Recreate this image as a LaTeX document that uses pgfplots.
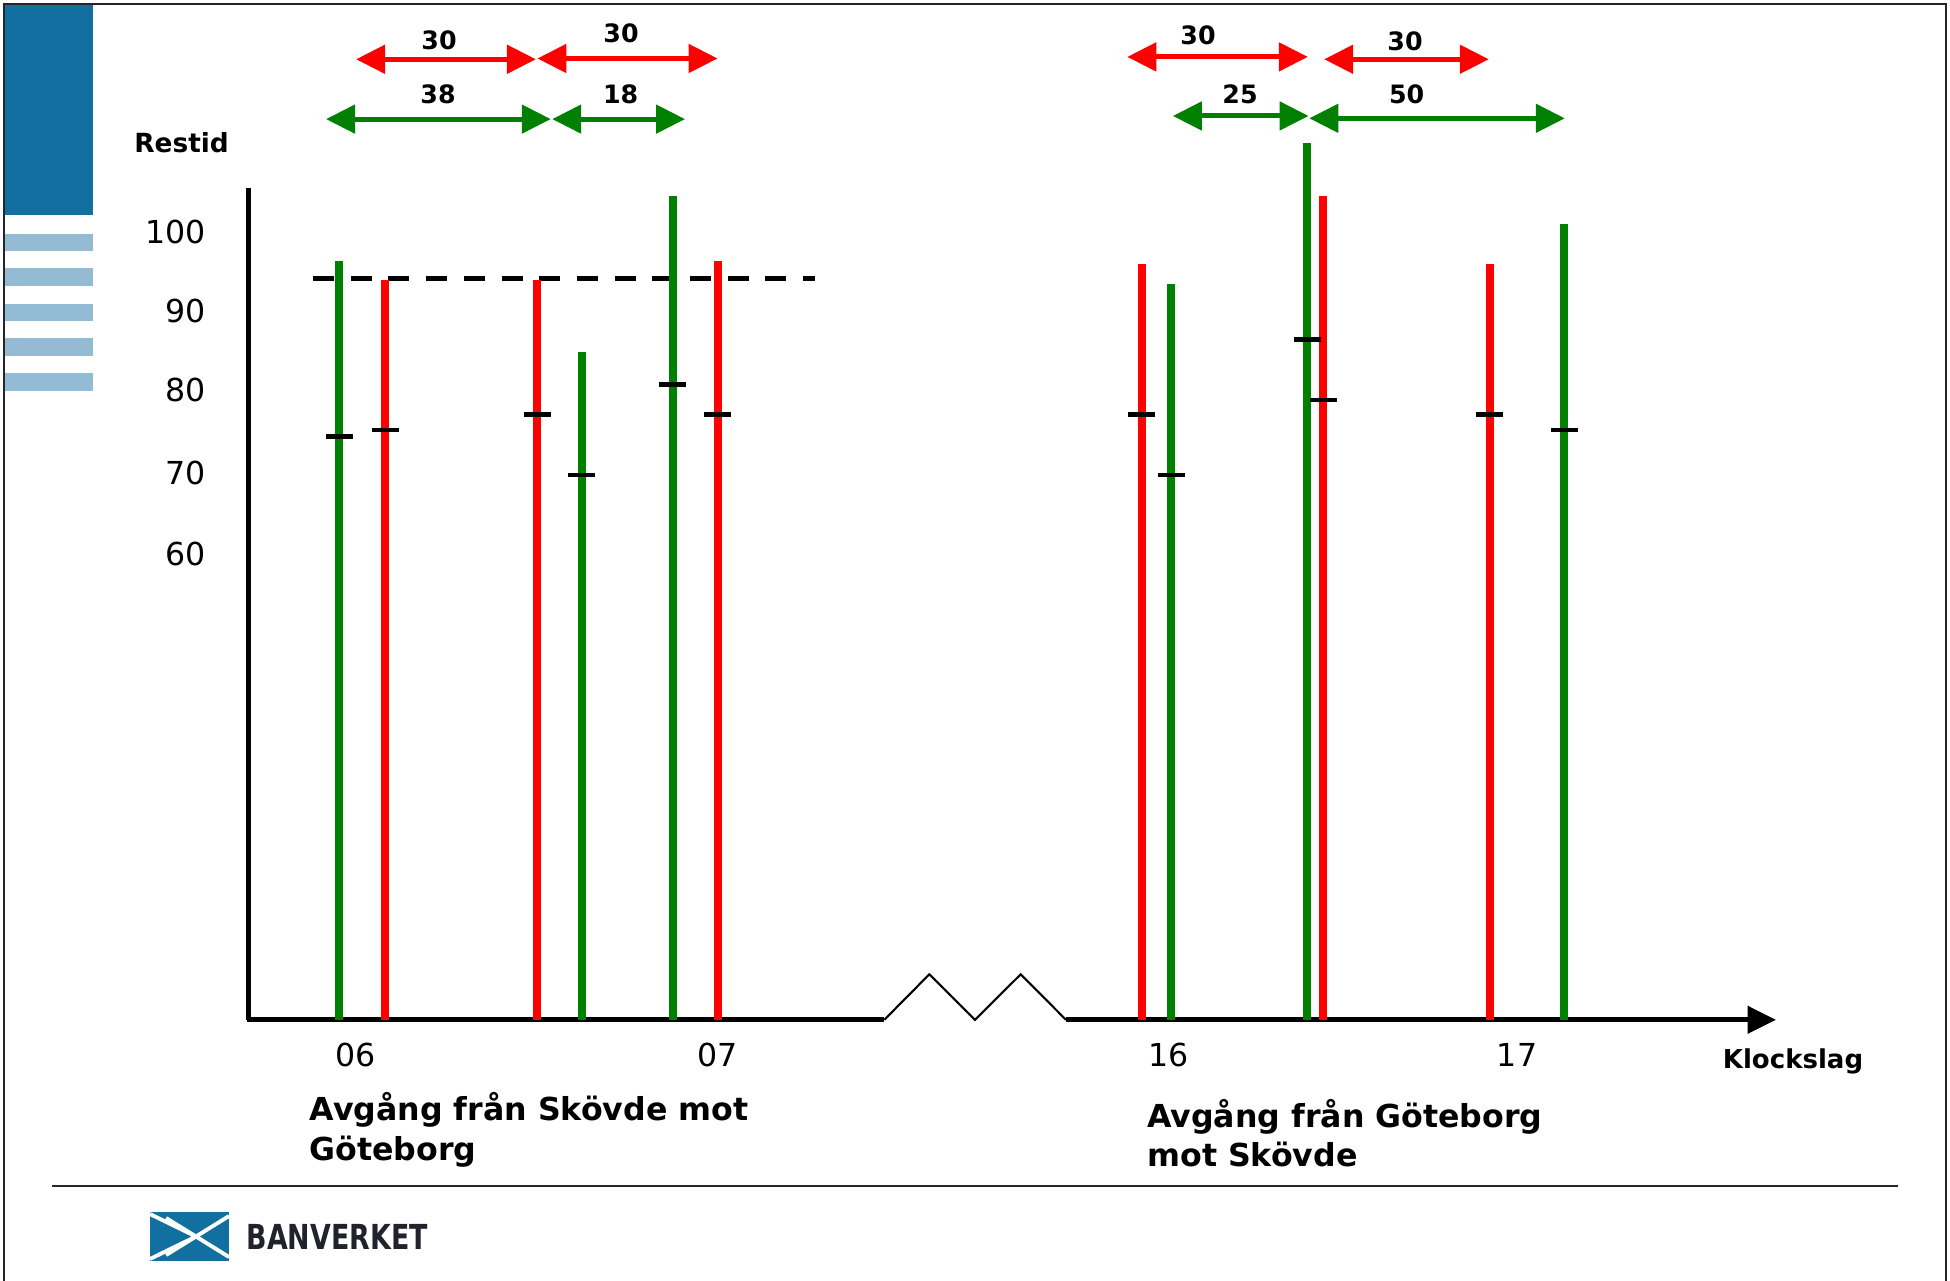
\documentclass[border=0pt]{standalone}
\usepackage{pgfplots}
\pgfplotsset{compat=1.18}
\usepackage{fontspec}
\setmainfont{DejaVu Sans}
\usetikzlibrary{arrows.meta}

\definecolor{tgreen}{RGB}{0,128,0}
\definecolor{tred}{RGB}{255,0,0}
\definecolor{bvblue}{RGB}{17,112,160}
\definecolor{bvlight}{RGB}{147,187,211}
\definecolor{logotext}{RGB}{34,34,44}

% restid per avgang: x = klockslag (tim, med avbrott mellan 07 och 16), y = min
\pgfplotstableread{
x     top   mid
5.955 96.4  74.1
6.625 84.8  69.2
6.876 104.6 80.7
8.254 93.5  69.2
8.629 111.4 86.4
9.340 101.1 74.9
}\gronatag
\pgfplotstableread{
x     top   mid
6.082 94.0  74.9
6.502 94.0  76.9
7.000 96.4  76.9
8.172 96.0  76.9
8.673 104.6 78.7
9.134 96.0  76.9
}\rodatag

\tikzset{dim/.style={line width=1.4pt, {Triangle[length=2.9mm,width=2.8mm]}-{Triangle[length=2.9mm,width=2.8mm]}}}

\begin{document}
\begin{tikzpicture}
\begin{scope}[x=0.1mm, y=-0.1mm]
  \useasboundingbox (0,0) rectangle (1950,1281);
  % ram och sidhuvud
  \draw[line width=0.6pt, black!85] (4,1290) -- (4,4) -- (1946,4) -- (1946,1290);
  \fill[bvblue] (5,5) rectangle (92.7,215);
  \foreach \a/\b in {234/251, 268.3/285.7, 304/320.7, 338.3/355.7, 373.3/390.7}
    \fill[bvlight] (5,\a) rectangle (92.7,\b);
  \draw[line width=0.6pt, black!85] (52,1186) -- (1898,1186);
  % logotyp
  \begin{scope}
    \clip (150,1212) rectangle (229,1261);
    \fill[bvblue] (150,1212) rectangle (229,1261);
    \draw[white, line width=1.1pt] (150,1214) -- (196,1236.5) -- (150,1259);
    \draw[white, line width=1.1pt] (166,1218) -- (196,1236.5) -- (229,1216);
    \draw[white, line width=1.1pt] (166,1255) -- (196,1236.5) -- (229,1257);
  \end{scope}
  \node[anchor=west, inner sep=0, text=logotext] at (246,1237)
    {\scalebox{0.78}[1]{\fontsize{9.8pt}{11pt}\selectfont\bfseries BANVERKET}};
  % axlar
  \draw[line width=1.4pt] (248.7,1019.8) -- (248.7,188);
  \draw[line width=1.35pt] (246.7,1019.8) -- (884.3,1019.8);
  \draw[line width=0.6pt] (884.3,1019.8) -- (929.3,974.3) -- (975,1019.8) -- (1020.7,974.3) -- (1066,1019.8);
  \draw[line width=1.35pt, -{Triangle[length=2.85mm,width=2.7mm]}] (1066,1019.8) -- (1776,1019.8);
  % texter
  \node[font=\fontsize{7.5pt}{9pt}\selectfont\bfseries] at (181.6,143) {Restid};
  \node[font=\fontsize{7.4pt}{9pt}\selectfont\bfseries, anchor=base] at (1793,1068.5) {Klockslag};
  \begin{scope}[every node/.style={font=\fontsize{9pt}{11pt}\selectfont\bfseries, anchor=base west, inner sep=0}]
    \node at (309,1120) {Avgång från Skövde mot};
    \node at (309,1160) {Göteborg};
    \node at (1146.6,1127) {Avgång från Göteborg};
    \node at (1146.6,1166) {mot Skövde};
  \end{scope}
  \begin{scope}[every node/.style={font=\fontsize{7.2pt}{9pt}\selectfont\bfseries, anchor=base, inner sep=0}]
    \node at (439,50) {30};
    \node at (621,42.7) {30};
    \node at (438,104) {38};
    \node at (620.7,104) {18};
    \node at (1198,45) {30};
    \node at (1405,50.7) {30};
    \node at (1240,104) {25};
    \node at (1406.7,104) {50};
  \end{scope}
\end{scope}

\begin{axis}[
    at={(24.87mm,-101.98mm)}, anchor=south west,
    scale only axis, width=152.73mm, height=83.18mm,
    xmin=5.7043, xmax=9.9245, ymin=0, ymax=105.65,
    axis line style={draw=none},
    clip=false,
    major tick length=0pt,
    xtick={6,7,8.247,9.209}, xticklabels={06,07,16,17},
    ytick={59.2,69.4,80,90,100}, yticklabels={60,70,80,90,100},
    /pgf/number format/assume math mode=true,
    tick label style={font=\fontsize{9pt}{11pt}\selectfont, inner sep=0pt},
    xticklabel style={anchor=center, yshift=-3.48mm},
    yticklabel style={anchor=east, xshift=-4.22mm},
]
  % dubbelpilar: turtathet i minuter
  \addplot[dim, tred] coordinates {(6.001,122.0) (6.498,122.0)};
  \addplot[dim, tred] coordinates {(6.502,122.1) (7.000,122.1)};
  \addplot[dim, tgreen] coordinates {(5.918,114.4) (6.539,114.4)};
  \addplot[dim, tgreen] coordinates {(6.543,114.4) (6.910,114.4)};
  \addplot[dim, tred] coordinates {(8.132,122.3) (8.631,122.3)};
  \addplot[dim, tred] coordinates {(8.676,122.0) (9.131,122.0)};
  \addplot[dim, tgreen] coordinates {(8.258,114.8) (8.633,114.8)};
  \addplot[dim, tgreen] coordinates {(8.635,114.5) (9.341,114.5)};
  % streckad niva
  \addplot[black, line width=1.5pt, dash pattern=on 2.1mm off 1.67mm] coordinates {(5.882,94.2) (7.268,94.2)};
  % staplar
  \addplot[ycomb, tgreen, line width=0.8mm] table[x=x, y=top] {\gronatag};
  \addplot[ycomb, tred, line width=0.8mm] table[x=x, y=top] {\rodatag};
  % medelvarden
  \addplot[only marks, mark=-, mark size=1.35mm, mark options={line width=1.3pt, black}] table[x=x, y=mid] {\gronatag};
  \addplot[only marks, mark=-, mark size=1.35mm, mark options={line width=1.3pt, black}] table[x=x, y=mid] {\rodatag};
\end{axis}
\end{tikzpicture}
\end{document}
